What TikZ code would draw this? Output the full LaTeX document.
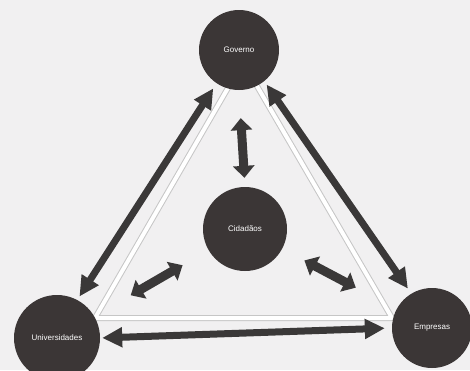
\documentclass[tikz,border=0pt]{standalone}
\usepackage{fontspec}
\setsansfont{Liberation Sans}
\usetikzlibrary{arrows.meta}
\definecolor{disc}{HTML}{3B3636}
\definecolor{arrowdark}{HTML}{3A3838}
\definecolor{paper}{HTML}{F1F0F1}

\begin{document}
\begin{tikzpicture}[x=1pt, y=-1pt,
    font=\sffamily\fontsize{8}{9}\selectfont,
    actor/.style={circle, fill=disc, text=white, inner sep=0pt, minimum size=#1},
    band/.style={draw=gray!45, line width=1pt, double=white, double distance=4pt, line join=round},
    bigarr/.style={draw=arrowdark, line width=7pt,
                   {Triangle[length=20pt,width=19pt]}-{Triangle[length=20pt,width=19pt]}},
    smallarr/.style={draw=arrowdark, line width=9pt,
                     {Triangle[length=12pt,width=21pt]}-{Triangle[length=12pt,width=21pt]}}
  ]
  \fill[paper] (0,0) rectangle (470,370);
  \useasboundingbox (0,0) rectangle (470,370);
  % triangle behind the discs
  \coordinate (ta) at (243,62);
  \coordinate (tb) at (95,318);
  \coordinate (tc) at (392,318);
  \draw[band] (ta) -- (tb) -- (tc) -- cycle;
  \node[actor=80pt] (gov) at (239,50)  {Governo};
  \node[actor=84pt] (cid) at (245,229) {Cidadãos};
  \node[actor=86pt] (uni) at (57,338)  {Universidades};
  \node[actor=80pt] (emp) at (432,328) {Empresas};
  \draw[bigarr, shorten <=6pt, shorten >=4pt] (gov.236) -- (uni.62);
  \draw[bigarr, shorten <=4pt, shorten >=6pt] (gov.309) -- (emp.121);
  \draw[bigarr, shorten <=2pt, shorten >=7pt] (uni.east) -- (emp.west);
  \draw[smallarr, shorten <=28pt, shorten >=9pt] (gov.south) -- (cid.north);
  \draw[smallarr, shorten <=30pt, shorten >=42pt] (cid) -- (uni);
  \draw[smallarr, shorten <=25pt, shorten >=46pt] (cid) -- (emp);
\end{tikzpicture}
\end{document}
